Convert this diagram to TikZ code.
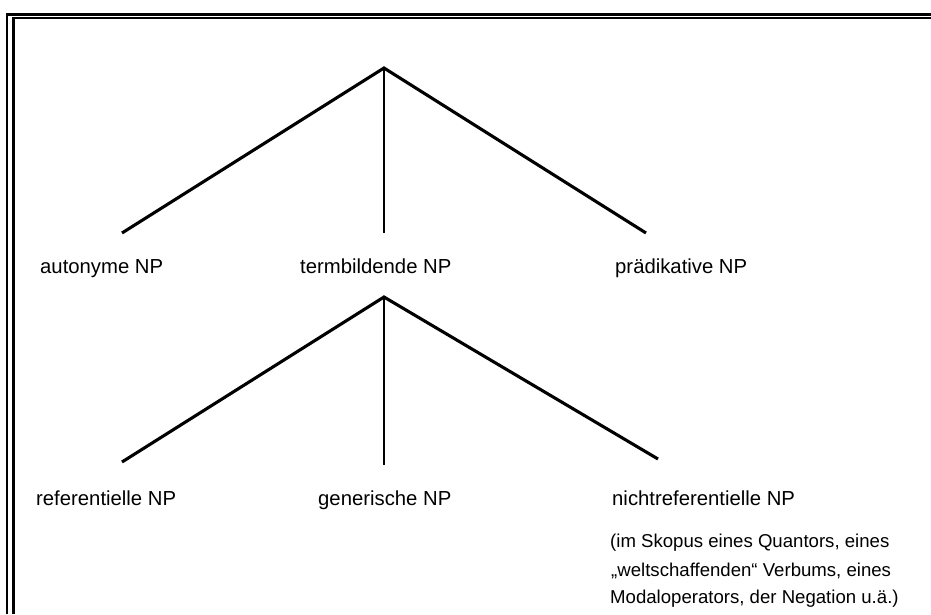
\documentclass[tikz,border=0pt]{standalone}
\usepackage{fontspec}
\setmainfont{Liberation Sans}
\begin{document}
\begin{tikzpicture}[x=1pt,y=-1pt,
  branch/.style={line width=3.1pt},
  stem/.style={line width=2.1pt},
  frameline/.style={line width=2.4pt},
  label/.style={anchor=base west,inner sep=0pt,font=\fontsize{20.3}{22}\selectfont},
  note/.style={anchor=base west,inner sep=0pt,font=\fontsize{18.6}{20}\selectfont}]
\useasboundingbox (0,0) rectangle (931,614);
% double frame on top and left
\draw[frameline] (931,14.5) -- (7,14.5) -- (7,614);
\draw[frameline] (931,18) -- (13.5,18) -- (13.5,614);

% upper tree
\coordinate (r1) at (384,68);
\coordinate (a1) at (122,233);
\coordinate (b1) at (384,233);
\coordinate (c1) at (646,233);
\draw[branch] (a1) -- (r1) -- (c1);
\draw[stem] (r1) -- (b1);
\node[label] (auto) at (40,273) {autonyme NP};
\node[label] (term) at (300,273) {termbildende NP};
\node[label] (praed) at (615,273) {prädikative NP};

% lower tree
\coordinate (r2) at (384,297);
\coordinate (a2) at (122,462);
\coordinate (b2) at (384,465);
\coordinate (c2) at (658,459);
\draw[branch] (a2) -- (r2) -- (c2);
\draw[stem] (r2) -- (b2);
\node[label] (ref) at (36,505) {referentielle NP};
\node[label] (gen) at (318,505) {generische NP};
\node[label] (nref) at (612,505) {nichtreferentielle NP};

% explanatory note
\node[note] (n1) at (610,547) {(im Skopus eines Quantors, eines};
\node[note] (n2) at (611,576) {„weltschaffenden“ Verbums, eines};
\node[note] (n3) at (610,603) {Modaloperators, der Negation u.ä.)};
\end{tikzpicture}
\end{document}
